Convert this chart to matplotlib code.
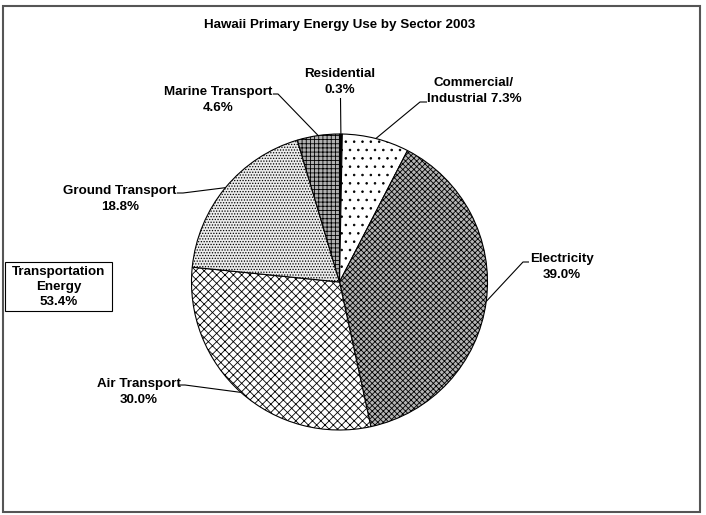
import numpy as np
import matplotlib
matplotlib.use('Agg')
import matplotlib.pyplot as plt
from matplotlib.patches import Rectangle

plt.rcParams['font.family'] = ['Liberation Sans', 'DejaVu Sans']
plt.rcParams['font.weight'] = 'bold'
plt.rcParams['font.size'] = 9.6
plt.rcParams['hatch.linewidth'] = 0.6

# energy use shares, clockwise from 12 o'clock
sectors = ['Residential', 'Commercial/\nIndustrial', 'Electricity',
           'Air Transport', 'Ground Transport', 'Marine Transport']
shares = [0.3, 7.3, 39.0, 30.0, 18.8, 4.6]
seps = ['\n', ' ', '\n', '\n', '\n', '\n']
transport_total = 53.4

faces = ['black', 'white', '#b4b4b4', 'white', '#ececec', '#b0b0b0']
hatches = [None, '..', 'xxxxxx', 'xxxx', '......', '++++']

# where each label sits and the path of its leader line next to the text
label_xy = [(340, 82), (474, 91), (562, 267), (139, 392), (120, 199), (218, 100)]
leader_pts = [[(340.5, 98)],
              [(427, 102), (420, 102)],
              [(529, 262), (523, 262)],
              [(179, 385), (185, 385)],
              [(177, 193), (183, 193)],
              [(273, 94), (278, 94)]]

cx, cy, r = 339.5, 282, 148

fig = plt.figure(figsize=(7.06, 5.15), dpi=100)
ax = fig.add_axes([0, 0, 1, 1])

# y axis runs downward, so counterclock=True here turns clockwise on screen
wedges, _ = ax.pie(shares, startangle=-90, counterclock=True, center=(cx, cy),
                   radius=r, colors=faces,
                   wedgeprops=dict(edgecolor='black', linewidth=0.8))
for w, h in zip(wedges, hatches):
    if h:
        w.set_hatch(h)

ax.set_xlim(0, 706)
ax.set_ylim(515, 0)
ax.set_aspect('equal')
ax.axis('off')

for w, name, sep, v, (tx, ty), pts in zip(wedges, sectors, seps, shares,
                                          label_xy, leader_pts):
    mid = np.deg2rad((w.theta1 + w.theta2) / 2)
    ex, ey = cx + r * np.cos(mid), cy + r * np.sin(mid)
    xs = [p[0] for p in pts] + [ex]
    ys = [p[1] for p in pts] + [ey]
    ax.plot(xs, ys, color='black', lw=0.8, solid_capstyle='butt')
    ax.text(tx, ty, f'{name}{sep}{v:.1f}%', ha='center', va='center',
            linespacing=1.35)

ax.text(340, 25, 'Hawaii Primary Energy Use by Sector 2003', ha='center',
        va='center')

# transportation subtotal box
ax.add_patch(Rectangle((5, 262), 107, 49, facecolor='white',
                       edgecolor='black', lw=0.8))
ax.text(58.5, 287, f'Transportation\nEnergy\n{transport_total:.1f}%',
        ha='center', va='center', linespacing=1.3)

# chart frame
ax.add_patch(Rectangle((3, 6), 697, 506, fill=False, edgecolor='#555555',
                       lw=1.5))

fig.savefig('out.png', dpi=100)
